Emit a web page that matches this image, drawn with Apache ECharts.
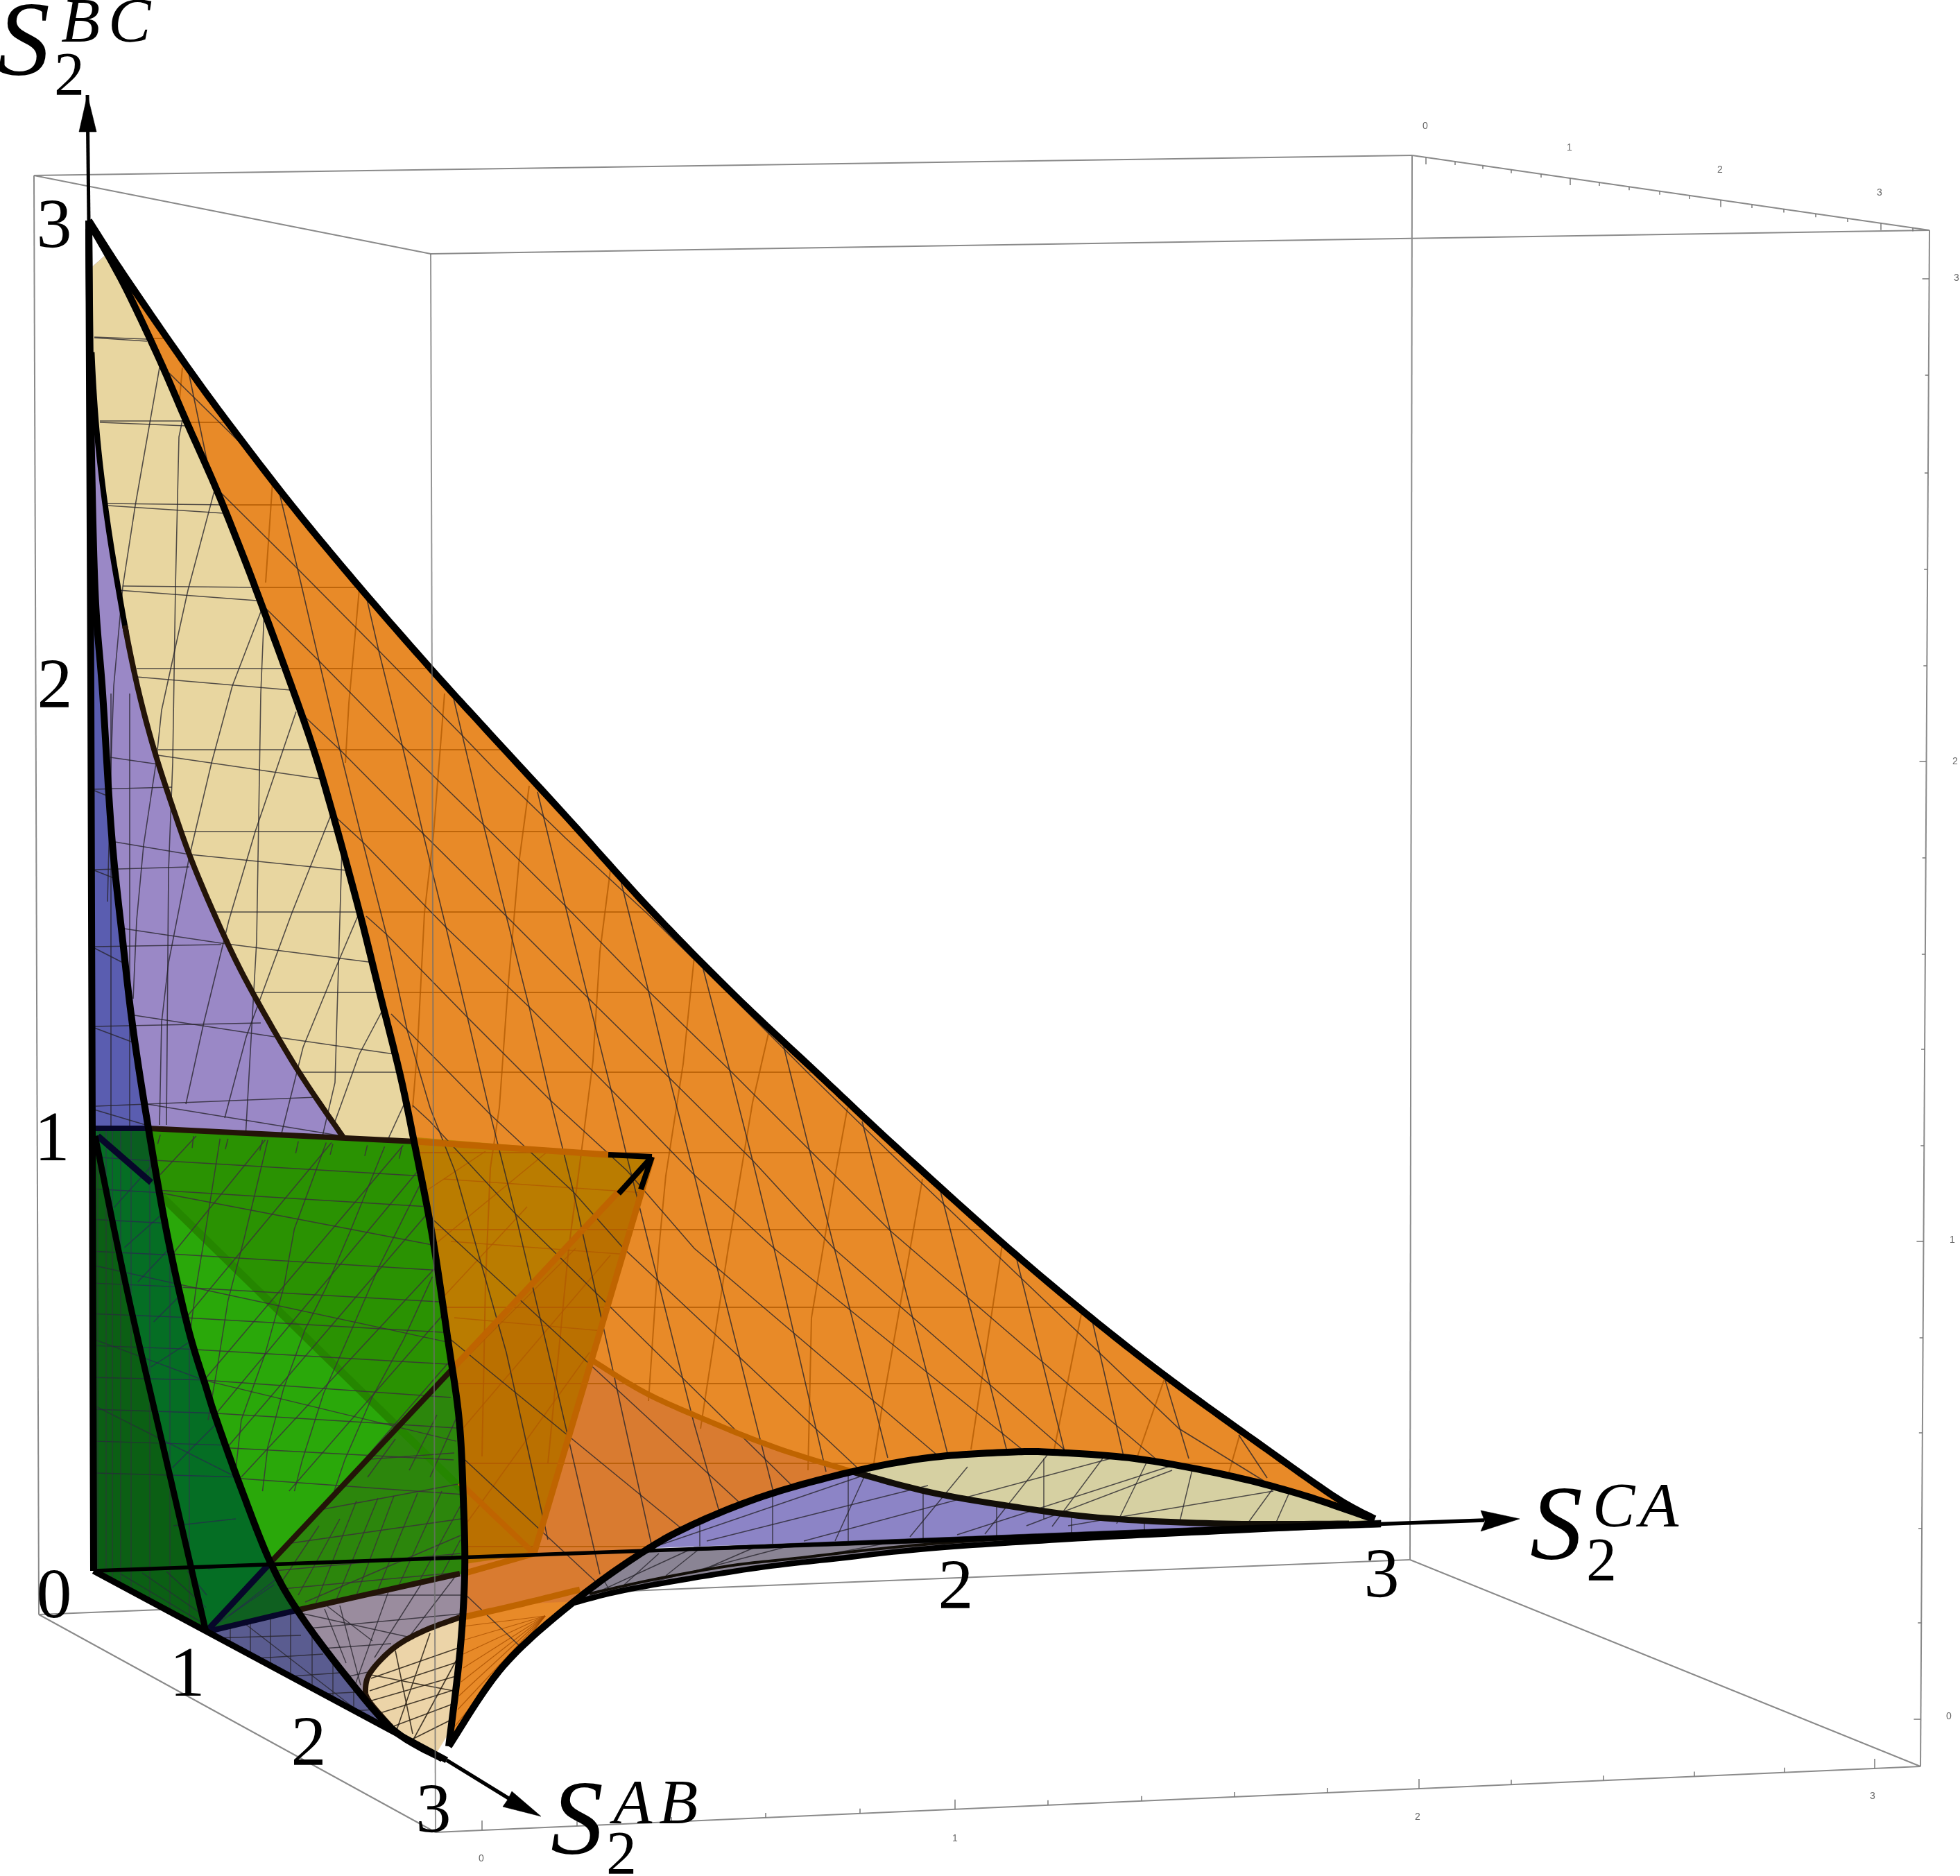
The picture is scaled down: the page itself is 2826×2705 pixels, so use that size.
<!DOCTYPE html>
<html><head><meta charset="utf-8">
<style>html,body{margin:0;padding:0;background:#fff}#c{width:2826px;height:2705px}</style>
<script src="https://cdn.jsdelivr.net/npm/echarts@6/dist/echarts.min.js"></script>
</head><body><div id="c"></div>
<script>
// ---- key vertices (plot units) ----
const origin=[135,2265], axisTopTip=[126,137], axisRightTip=[2191,2190], axisFrontTip=[780,2619];
const zTop=[128,318], z1=[136,1627], p1=[297,2353], x1=[390,2253], cubeTip=[940,1668], cubeFoot=[770,2240];
// ---- surface boundary curves ----
const outerEdge=[[128,318],[177,394],[263,519],[330,611],[421,729],[518,846],[620,963],[700,1051],[815,1176],[940,1314],[1060,1436],[1182,1551],[1292,1654],[1445,1792],[1573,1900],[1691,1992],[1827,2090],[1927,2160],[1982,2190]];
const innerEdge=[[128,320],[177,407],[228,514],[268,606],[311,703],[350,800],[375,866],[409,958],[447,1065],[474,1153],[516,1306],[548,1434],[577,1550],[597,1646],[623,1780],[646,1933],[662,2047],[668,2161],[670,2269],[663,2384],[647,2518]];
const yellowEdge=[[130,450],[135,560],[143,657],[156,759],[171,851],[187,938],[204,1014],[224,1087],[247,1158],[278,1245],[322,1347],[363,1429],[428,1541],[495,1640]];
const midEdge=[[128,330],[131,600],[137,850],[148,1000],[161,1204],[177,1357],[192,1485],[214,1627],[241,1780],[271,1914],[297,2000],[312,2047],[348,2147],[390,2253],[432,2327],[500,2418],[568,2495],[638,2536]];
const leftEdge=[[137,1638],[185,1869],[242,2115],[297,2353]];
const upperRim=[[647,2518],[725,2403],[828,2309],[930,2236],[1006,2195],[1108,2155],[1229,2122],[1338,2102],[1452,2094],[1518,2094],[1636,2103],[1764,2126],[1873,2154],[1982,2191]];
const lowerRim=[[828,2311],[910,2291],[1083,2262],[1210,2247],[1338,2233],[1529,2220],[1700,2211],[1991,2197]];
const peachEdge=[[663,2332],[610,2352],[568,2376],[535,2410],[527,2435],[533,2454],[564,2490]];
const peachEdgeHidden=[[663,2333],[755,2312],[836,2292]];
const orangeFold=[[853,1961],[930,2008],[1019,2048],[1120,2088],[1229,2122]];
const lensEdge=[[1229,2122],[1338,2151],[1465,2173],[1593,2189],[1764,2197],[1945,2197]];
const wedgeInner=[[850,2298],[940,2278],[1050,2258],[1146,2247],[1320,2228],[1500,2216]];

// ---- grid lines of the surfaces, crop-frame readings ----
const orangeSteep=[
[[271,532],[299,667]],
[[401,703],[429,820],[460,953],[490,1081],[523,1214],[557,1347],[587,1485],[620,1597],[656,1689],[730,1950],[790,2220]],
[[529,864],[546,938],[580,1075],[610,1202],[643,1337],[674,1467],[707,1607],[743,1750],[800,1990],[865,2270]],
[[654,1007],[697,1189],[730,1321],[763,1452],[794,1587],[827,1719],[845,1800],[900,2050],[940,2230]],
[[775,1142],[815,1306],[848,1439],[881,1571],[904,1668],[937,1800],[1000,2050],[1040,2190]],
[[895,1270],[935,1429],[965,1554],[1001,1694],[1027,1800],[1115,2151]],
[[1012,1390],[1052,1543],[1085,1673],[1116,1800],[1191,2122]],
[[1129,1505],[1167,1658],[1203,1800],[1280,2102]],
[[1243,1617],[1284,1776],[1366,2095]],
[[1355,1714],[1452,2093]],
[[1462,1800],[1535,2093]],
[[1574,1901],[1621,2104]],
[[1680,1990],[1714,2103]],
[[1786,2069],[1827,2131]]];
const orangeDiag=[
[[243,537],[355,647]],
[[319,711],[429,820],[546,938],[666,1060],[714,1110],[815,1208],[935,1319],[1052,1434],[1167,1549],[1284,1663],[1399,1773],[1700,2060],[1830,2140]],
[[383,877],[460,953],[580,1075],[697,1189],[815,1306],[935,1429],[1052,1543],[1167,1658],[1284,1775],[1580,2030],[1680,2115]],
[[439,1033],[490,1081],[610,1202],[730,1321],[848,1439],[965,1554],[1085,1673],[1202,1800],[1540,2095]],
[[485,1179],[523,1214],[643,1337],[763,1452],[881,1571],[1001,1694],[1116,1800],[1480,2095]],
[[528,1321],[557,1347],[674,1467],[794,1587],[904,1688],[1001,1800],[1350,2097]],
[[564,1462],[587,1485],[707,1607],[827,1719],[899,1800],[1240,2120]],
[[595,1594],[620,1617],[743,1750],[794,1800],[1150,2150]],
[[626,1760],[1070,2170]],
[[648,1930],[990,2210]],
[[665,2100],[880,2300]],
[[672,2300],[830,2450]]];
const orangeFaint=[
[[263,530],[258,586]],
[[393,695],[383,840]],
[[518,850],[503,1014],[498,1100]],
[[641,1000],[625,1204],[612,1316],[602,1510],[595,1597]],
[[763,1133],[748,1245],[732,1429],[720,1597],[707,1684],[700,1850],[695,2100]],
[[880,1255],[865,1372],[855,1530],[838,1663],[820,1800],[790,2110]],
[[1001,1380],[985,1534],[960,1695],[950,1800],[935,2020]],
[[1108,1490],[1085,1590],[1050,1800],[1010,2060]],
[[1222,1597],[1205,1690],[1170,1900],[1165,2120]],
[[1330,1700],[1270,2040],[1260,2110]],
[[1445,1795],[1400,2090]],
[[1560,1890],[1520,2090]],
[[1680,1985],[1640,2100]],
[[1790,2060],[1770,2130]]];
const orangeRows=[488,609,728,847,964,1081,1199,1315,1431,1546,1662,1773,1885,1995,2110,2230];
const paleRows=[[[136,486],[212,489]],[[144,607],[263,607]],[[155,726],[326,728]],[[177,845],[370,847]],[[197,964],[405,964]],[[228,1081],[452,1081]],[[264,1199],[488,1199]],[[310,1315],[520,1315]],[[365,1431],[552,1431]],[[432,1546],[586,1546]],
[[136,487],[212,492]],[[144,609],[268,614]],[[156,729],[322,740]],[[171,851],[370,866]],[[197,976],[419,995]],[[228,1089],[462,1123]],[[273,1232],[500,1255]],[[319,1360],[539,1388]],[[396,1495],[569,1520]],
[[159,1092],[228,1102]],[[166,1214],[273,1232]],[[179,1339],[319,1360]],[[194,1464],[396,1495]],[[212,1592],[493,1638]],
[[136,1138],[248,1135]],[[136,1254],[273,1250]],[[136,1365],[319,1362]],[[136,1480],[376,1475]],[[138,1595],[457,1582]],
[[136,1140],[156,1148]],[[136,1255],[164,1266]],[[136,1367],[177,1388]],[[136,1482],[192,1503]],[[136,1600],[210,1622]]];
const paleSteep=[[[263,606],[258,630],[253,846],[249,1100],[243,1255],[240,1622]],
[[381,880],[376,1000],[370,1357],[354,1640]],[[493,1225],[483,1561],[465,1638]],
[[230,530],[195,729],[177,846],[164,989],[160,1100],[155,1300]],
[[309,708],[271,851],[233,1024],[225,1100],[207,1219],[197,1327],[192,1440]],
[[378,877],[335,989],[305,1100],[273,1235],[243,1388],[233,1474],[230,1622]],
[[427,1026],[368,1199],[330,1327],[294,1474],[268,1592]],
[[478,1173],[421,1316],[355,1495],[324,1612]],
[[518,1316],[483,1398],[437,1510],[405,1638]],
[[554,1452],[518,1520],[483,1617]],
[[585,1587],[557,1648]],
[[160,1000],[160,1625]],[[187,1000],[187,1625]]];
const greenRowsCrop=[[[385,322],[1370,380]],[[400,435],[1385,495]],[[400,445],[1420,640]],[[445,675],[1425,735]],[[470,790],[1470,1005]],[[480,800],[1455,855]],[[500,915],[1470,970]],[[530,1035],[1490,1090]],[[560,1150],[1510,1380]],[[560,1150],[1490,1215]],[[610,1275],[1510,1330]],[[650,1405],[1500,1450]],[[690,1520],[1530,1580]]];
const greenUpCrop=[[[395,375],[530,230]],[[445,670],[790,245]],[[500,905],[1040,255]],[[560,1150],[1310,265]],[[610,1270],[1375,350]],[[650,1400],[1420,500]],[[700,1515],[1455,700]],[[880,1568],[1480,880]],[[1060,1568],[1510,1050]]];
const greenSteepCrop=[[[620,240],[560,620],[530,800],[510,950]],[[800,245],[710,620],[650,850],[610,1100],[575,1300]],[[1020,255],[900,580],[860,800],[790,1050],[700,1300],[680,1480]],[[1240,270],[1110,590],[1020,800],[940,960],[860,1180],[800,1400],[780,1568]],[[1380,400],[1220,720],[1120,950],[1010,1200],[930,1450],[900,1568]],[[1420,760],[1310,1000],[1190,1220],[1090,1450],[1050,1568]]];
const greenTicksCrop=[[[395,225],[385,260]],[[520,230],[515,275]],[[650,240],[640,280]],[[780,245],[770,285]],[[915,250],[905,295]],[[1045,260],[1035,300]],[[1175,265],[1165,305]],[[1305,270],[1295,315]]];
const darkRowsCrop=[[[155,310],[390,325]],[[155,430],[420,445]],[[155,545],[440,560]],[[155,665],[470,680]],[[155,785],[500,800]],[[155,900],[525,915]],[[155,1020],[560,1035]],[[155,1140],[590,1150]],[[155,1260],[620,1275]],[[155,1380],[650,1395]],[[155,1500],[690,1515]],[[155,720],[470,790]],[[155,1000],[560,1150]],[[155,1250],[690,1520]]];
const darkUpCrop=[[[220,500],[400,300]],[[260,650],[440,490]],[[310,780],[470,610]],[[370,930],[530,770]],[[360,1100],[560,970]],[[440,1480],[640,1280]]];
const darkColumns=[141,153,162,174,189,216,245,273];
const lowRows=[[[150,2272],[290,2348]],[[175,2270],[292,2340]],[[205,2268],[295,2330]],[[240,2266],[297,2318]],[[270,2265],[298,2300]],[[300,2262],[345,2255]],[[250,2200],[340,2190]],[[300,2350],[395,2285]],[[330,2330],[420,2260]]];
const oliveUp=[[[453,2318],[514,2164]],[[484,2309],[545,2160]],[[514,2300],[568,2157]],[[545,2292],[602,2153]],[[576,2284],[637,2150]],[[606,2277],[664,2171]],[[400,2290],[460,2200]],[[430,2300],[490,2190]],[[636,2272],[664,2220]],[[480,2150],[520,2100]],[[530,2130],[570,2075]],[[590,2120],[630,2040]],[[620,2130],[660,2040]]];
const oliveRows=[[[396,2292],[664,2267]],[[440,2310],[664,2214]],[[395,2265],[664,2240]],[[445,2180],[660,2140]],[[420,2225],[665,2190]],[[520,2105],[655,2095]]];
const lavenderLines=[[[438,2327],[664,2377]],[[472,2316],[537,2366]],[[445,2348],[664,2327]],[[465,2377],[564,2370]],[[468,2320],[499,2398]],[[490,2315],[520,2430]],[[560,2295],[510,2435]],[[610,2280],[540,2390]],[[655,2275],[590,2360]],[[520,2300],[664,2300]],[[490,2420],[535,2410]],[[510,2460],[530,2445]]];
const peachLines=[[[535,2420],[664,2375]],[[533,2438],[664,2395]],[[536,2452],[664,2415]],[[548,2470],[660,2435]],[[565,2490],[658,2455]],[[590,2510],[650,2480]],[[535,2415],[664,2440]],[[570,2380],[595,2500]],[[620,2355],[570,2500]],[[660,2390],[595,2510]]];
const slateColumns=[332,361,390,419,450,480,510];
const slateRows=[[[308,2362],[434,2358]],[[340,2393],[466,2385]],[[378,2420],[490,2412]],[[415,2445],[512,2440]],[[460,2470],[540,2465]],[[345,2335],[520,2470]]];
const fanHub=[786,2330];
const fanEnds=[[668,2345],[668,2365],[668,2385],[668,2405],[665,2425],[662,2445],[660,2465],[655,2490],[652,2505],[700,2440]];
const wedgeFan=[[[828,2311],[1000,2232]],[[828,2311],[1150,2226]],[[828,2311],[1300,2221]],[[828,2311],[1520,2212]],[[860,2260],[880,2295]],[[950,2240],[900,2285]],[[1010,2232],[960,2272]],[[1100,2226],[1010,2265]]];
const wedgeColumns=[1009,1114,1223,1331,1437,1545,1650];
const wedgeLines=[[[942,2231],[1255,2124]],[[1019,2222],[1338,2142]],[[1159,2222],[1620,2098]],[[1380,2213],[1700,2110]],[[1204,2222],[1248,2125]],[[1312,2216],[1395,2115]],[[1420,2212],[1510,2098]],[[1610,2197],[1655,2105]],[[1517,2201],[1595,2096]],[[1700,2198],[1720,2115]],[[1800,2195],[1840,2140]],[[1840,2195],[1860,2150]],[[1480,2200],[1690,2120]],[[1540,2200],[1836,2150]],[[1505,2103],[1505,2190]]];
const brownFaint=[[[630,1880],[760,1740]],[[640,1990],[830,1800]],[[650,2080],[880,1810]],[[670,2200],[850,1950]],[[610,1720],[700,1660]],[[620,1800],[790,1660]],[[640,1700],[930,1720]],[[650,1790],[920,1810]],[[655,1900],[880,1920]]];

// ---- box of the frame ----
const boxBack=[[[49,253],[2036,224]],[[49,253],[621,366]],[[621,366],[2782,332]],[[2036,224],[2782,332]],[[49,253],[56,2328]],[[2036,224],[2033,2249]],[[2782,332],[2769,2547]],[[56,2328],[2033,2249]],[[56,2328],[628,2642]],[[628,2642],[2769,2547]],[[2033,2249],[2769,2547]]];
const boxFront=[[621,366],[628,2642]];
const bottomTicksX=[695,832,968,1104,1240,1377,1511,1646,1780,1914,2046,2179,2312,2443,2573,2703];
const bottomMajor=[695,1377,2046,2703];
const topTicksX=[2056,2098,2138,2179,2222,2264,2306,2349,2393,2436,2481,2526,2572,2618,2664,2712,2758];
const topMajor=[2056,2264,2481,2712];
const rightTicksY=[402,541,682,821,960,1098,1237,1376,1513,1652,1790,1929,2066,2204,2340,2479];
const rightMajor=[402,1098,1790,2479];
const smallLabels=[["0",694,2680],["1",1377,2651],["2",2044,2620],["3",2700,2590],["0",2055,182],["1",2263,213],["2",2480,245],["3",2710,278],["3",2821,401],["2",2819,1098],["1",2815,1788],["0",2810,2475]];
const bigDigits=[["3",78,330],["2",79,993],["1",75,1646],["0",78,2305],["1",270,2418],["2",445,2518],["3",625,2615],["2",1378,2292],["3",1992,2276]];
const titleS=[[-4,112],[2206,2252],[794,2677]];
const titleSup=[["B",88,62],["C",156,62],["C",2296,2203],["A",2364,2203],["A",884,2631],["B",950,2631]];
const titleSub=[["2",78,138],["2",2287,2280],["2",874,2703]];

// ---- helpers for turning the readings into drawing paths ----
function dense(p){const o=[];for(let i=0;i<p.length-1;i++){const a=p[Math.max(i-1,0)],b=p[i],c=p[i+1],d=p[Math.min(i+2,p.length-1)];const n=14;for(let k=0;k<n;k++){const t=k/n,t2=t*t,t3=t2*t;o.push([0,1].map(j=>0.5*(2*b[j]+(c[j]-a[j])*t+(2*a[j]-5*b[j]+4*c[j]-d[j])*t2+(3*b[j]-a[j]-3*c[j]+d[j])*t3)));}}o.push(p[p.length-1]);return o;}
const byY=(c,a,b)=>c.filter(p=>p[1]>=a&&p[1]<=b);
const byX=(c,a,b)=>c.filter(p=>p[0]>=a&&p[0]<=b);
const rev=c=>c.slice().reverse();
const crop=(ls,ox,oy,k)=>ls.map(l=>l.map(p=>[ox+p[0]/k,oy+p[1]/k]));
const O=dense(outerEdge),I=dense(innerEdge),Y=dense(yellowEdge),M=dense(midEdge),L=dense(leftEdge),U=dense(upperRim),Lo=dense(lowerRim),P=dense(peachEdge),F=dense(orangeFold),E=dense(lensEdge);

const regOrange=[...O,...rev(U),...rev(I)];
const regFold=[...F,...rev(byX(U,828,1229)),[755,2312],[668,2334],[668,2255],cubeFoot];
const regBrown=[cubeTip,[597,1640],...byY(I,1646,2255),cubeFoot];
const regBrownLow=[cubeTip,cubeFoot,[668,2255],...rev(byY(I,1975,2255))];
const regYellow=[[133,385],[152,368],...byY(I,368,1646),[495,1640],...rev(byY(Y,606,1640)),[136,606]];
const regPurple=[...byY(Y,500,1640),[214,1627],...rev(byY(M,500,1627))];
const regBlue=[...byY(M,600,1627),[135,1625],[131,1000],[130,600]];
const regUpper=[[133,385],[152,368],...byY(I,368,1646),z1,[130,600]];
const regGreenTop=[[214,1627],[597,1646],...byY(I,1646,2147),[222,1708],...rev(byY(M,1627,1708))];
const regGreenBright=[...byY(M,1708,2253),[574,2057],[222,1708]];
const regOlive=[x1,[654,1972],...byY(I,1972,2269),[427,2322],...rev(byY(M,2253,2322))];
const regTeal=[z1,[214,1627],...byY(M,1627,2253),p1,...rev(L)];
const regTealTop=[z1,[214,1627],[222,1708]];
const regDark=[origin,z1,...L,p1];
const regTealLow=[p1,x1,...byY(M,2253,2322),[427,2322]];
const regSlate=[p1,[427,2322],...byY(M,2322,2538),[644,2538]];
const regLav=[[427,2322],[672,2269],[672,2332],...P,...rev(byY(M,2322,2490))];
const regPeach=[[672,2332],...P,...byY(M,2490,2530),[629,2528],[646,2500],...rev(byY(I,2332,2500))];
const regWedgePurple=[[935,2232],...byX(U,935,1229),...byX(E,1229,1764),[1764,2204]];
const regLens=[...byX(U,1229,1982),...rev(E)];
const regWedgeGray=[[928,2236],[1764,2204],[1764,2209],...rev(byX(Lo,828,1764))];
const regGreenAll=[z1,[597,1646],...byY(I,1646,2269),[427,2322],p1,origin];

// ---- drawing list ----
const ops=[];
const fill=(poly,color)=>ops.push({k:'fill',poly,color});
const line=(pts,color,w)=>ops.push({k:'line',pts,color,w});
const mesh=(lines,clip,color,w)=>ops.push({k:'mesh',lines,clip,color,w});
const text=(t,x,y,size,style,color,align,base)=>ops.push({k:'text',t,x,y,size,style,color,align,base});
const DARK='rgba(38,36,44,0.78)',FAINT='rgba(176,88,0,0.75)';
boxBack.forEach(l=>line(l,'#8a8a8a',2));
const bottomY=x=>2642+(x-628)*(2547-2642)/(2769-628),topY=x=>224+(x-2036)*(332-224)/(2782-2036),rightX=y=>2782+(y-332)*(2769-2782)/(2547-332);
bottomTicksX.forEach(x=>{const M0=bottomMajor.includes(x);line([[x,bottomY(x)],[x,bottomY(x)-(M0?14:7)]],'#777',1.5);});
topTicksX.forEach(x=>{const M0=topMajor.includes(x);line([[x,topY(x)],[x,topY(x)+(M0?10:5)]],'#777',1.5);});
rightTicksY.forEach(y=>{const M0=rightMajor.includes(y);line([[rightX(y),y],[rightX(y)-(M0?10:5),y]],'#777',1.5);});
smallLabels.forEach(a=>text(a[0],a[1],a[2],14,'normal','#666','center','middle'));

fill(regOrange,'#E88A28');
fill(regFold,'#D97B30');
fill(regBrown,'#BA7C00');
fill(regBrownLow,'#BA7000');
mesh(orangeFaint,regOrange,FAINT,2);
mesh(orangeRows.map(y=>[[100,y],[2100,y]]),regOrange,FAINT,2);
mesh(brownFaint,regBrown,FAINT,1.5);
fill(regWedgeGray,'#8A8494');
fill(regWedgePurple,'#8C84C6');
fill(regLens,'#D6D0A2');
mesh(wedgeColumns.map(x=>[[x,2080],[x,2240]]),regWedgePurple,DARK,1.5);
mesh(wedgeLines,regWedgePurple,DARK,1.5);
mesh(wedgeLines,regLens,DARK,1.5);
mesh(wedgeFan,regWedgeGray,DARK,1.5);
mesh(fanEnds.map(e=>[fanHub,e]),regOrange,'rgba(170,80,0,0.8)',1.2);
mesh(orangeSteep,regOrange,DARK,1.6);
mesh(orangeDiag,regOrange,DARK,1.6);

fill(regUpper,'#9A88C6');
fill(regBlue,'#5A5DB0');
fill(regPurple,'#9A88C6');
fill(regYellow,'#E8D6A0');
mesh(paleRows,regUpper,DARK,1.6);
mesh(paleSteep,regUpper,DARK,1.6);

fill(regGreenAll,'#2A9202');
fill(regGreenTop,'#2A9202');
fill(regGreenBright,'#2AA80A');
fill(regOlive,'#2C860C');
fill(regTeal,'#056E24');
fill(regTealTop,'#0A5E20');
fill(regDark,'#0B5F14');
fill(regTealLow,'#0F6020');
fill(regSlate,'#5A5C90');
fill(regLav,'#9A8C9E');
fill(regPeach,'#ECD4A8');
const GM='rgba(60,44,60,0.8)';
line([[230,1722],[665,2147]],'#258600',11);
mesh(crop(greenRowsCrop,80,1550,2.613),regGreenAll,GM,1.5);
mesh(crop(greenUpCrop,80,1550,2.613),regGreenAll,GM,1.5);
mesh(crop(greenSteepCrop,80,1550,2.613),regGreenAll,GM,1.5);
mesh(crop(greenTicksCrop,80,1550,2.613),regGreenAll,GM,1.5);
mesh(crop(darkRowsCrop,80,1550,2.613),regTeal,'rgba(40,40,80,0.75)',1.4);
mesh(crop(darkRowsCrop,80,1550,2.613),regDark,'rgba(40,40,60,0.7)',1.4);
mesh(crop(darkUpCrop,80,1550,2.613),regTeal,'rgba(40,40,80,0.75)',1.4);
mesh(darkColumns.map(x=>[[x,1627],[x,2380]]),regDark,'rgba(50,50,60,0.7)',1.4);
mesh(darkColumns.map(x=>[[x,1627],[x,2380]]),regTeal,'rgba(50,50,80,0.7)',1.4);
mesh(lowRows,regDark,'rgba(40,40,60,0.7)',1.4);
mesh(lowRows,regTeal,'rgba(40,40,80,0.7)',1.4);
mesh(lowRows,regTealLow,'rgba(40,40,80,0.7)',1.4);
mesh(oliveUp,regOlive,GM,1.4);
mesh(oliveRows,regOlive,GM,1.4);
mesh(lavenderLines,regLav,DARK,1.4);
mesh(peachLines,regPeach,'rgba(40,30,20,0.85)',1.6);
mesh(slateColumns.map(x=>[[x,2320],[x,2500]]),regSlate,DARK,1.4);
mesh(slateRows,regSlate,DARK,1.4);

// hidden edges
const BROWN='#231408',NAVY='#07072A',HID='#BF6400';
line([[663,2138],cubeFoot],HID,8);
line([cubeTip,cubeFoot],HID,9);
line([[654,1972],[892,1718]],HID,9);
line([[600,1646],[877,1665]],HID,9);
line([[668,2269],cubeFoot],HID,9);
line(dense(peachEdgeHidden),HID,9);
line(F,HID,8);
// black wire on top
line(Lo,'#000',8);
line(dense(wedgeInner),'#120e08',4);
line(byY(Y,500,915),'#000',8);
line(byY(Y,900,1640),BROWN,8);
line([z1,[214,1627]],NAVY,8);
line([[214,1627],[600,1646]],BROWN,8);
line([[141,1638],[218,1705]],NAVY,9);
line([p1,x1],NAVY,9);
line([x1,[654,1972]],BROWN,8);
line([p1,[427,2322]],NAVY,8);
line([[427,2322],[663,2269]],BROWN,8);
line(P,BROWN,8);
line(E,'#120e08',9);
line(L,'#000',9);
line(M,'#000',10);
line(O,'#000',10);
line(U,'#000',10);
line(I,'#000',10);
line([[877,1665],cubeTip],'#000',8);
line([cubeTip,[892,1721]],'#000',8);
line([cubeTip,[924,1715]],'#000',8);
line([axisTopTip,zTop],'#000',5);
line([zTop,[131,1000],origin],'#000',10);
line([origin,[2140,2192]],'#000',5.5);
fill([[1000,2231],[1991,2192],[1991,2202],[1000,2236]],'#000');
line([origin,[644,2538]],'#000',9);
line([[644,2538],[735,2594]],'#000',5.5);
fill([axisTopTip,[139,190],[114,190]],'#000');
fill([axisRightTip,[2135,2178],[2141,2194],[2135,2208]],'#000');
fill([axisFrontTip,[738,2583],[732,2595],[725,2605]],'#000');
line(boxFront,'rgba(110,110,110,0.72)',2);

bigDigits.forEach(a=>text(a[0],a[1],a[2],102,'normal','#000','center','middle'));
titleS.forEach(a=>text('S',a[0],a[1],152,'italic','#000','left','alphabetic'));
titleSup.forEach(a=>text(a[0],a[1],a[2],92,'italic','#000','left','alphabetic'));
titleSub.forEach(a=>text(a[0],a[1],a[2],88,'normal','#000','left','alphabetic'));

function render(params,api){
 const op=ops[params.dataIndex],z=params.dataIndex;
 const pts=a=>a.map(p=>api.coord(p));
 if(op.k==='fill')return {type:'polygon',z2:z,shape:{points:pts(op.poly)},style:{fill:op.color,stroke:op.color,lineWidth:0.6}};
 if(op.k==='line')return {type:'polyline',z2:z,shape:{points:pts(op.pts)},style:{fill:null,stroke:op.color,lineWidth:op.w,lineJoin:'round',lineCap:'butt'}};
 if(op.k==='mesh')return {type:'group',clipPath:{type:'polygon',shape:{points:pts(op.clip)}},children:op.lines.map(l=>({type:'polyline',z2:z,shape:{points:pts(l)},style:{fill:null,stroke:op.color,lineWidth:op.w}}))};
 const c=api.coord([op.x,op.y]);
 const mid=op.base==='middle';
 return {type:'text',z2:z,x:c[0],y:mid?c[1]:c[1]+op.size*0.21,style:{text:op.t,fill:op.color,font:op.style+' '+op.size+'px "'+(op.size<20?'Liberation Sans':'Liberation Serif')+'"',textAlign:op.align,textVerticalAlign:mid?'middle':'bottom',verticalAlign:mid?'middle':'bottom'}};
}
const chart=echarts.init(document.getElementById('c'),null,{renderer:'canvas'});
chart.setOption({animation:false,backgroundColor:'#fff',
 grid:{left:0,right:0,top:0,bottom:0},
 xAxis:{type:'value',min:0,max:2826,show:false},
 yAxis:{type:'value',min:0,max:2705,inverse:true,show:false},
 series:[{type:'custom',coordinateSystem:'cartesian2d',clip:false,progressive:0,silent:true,renderItem:render,data:ops.map((o,i)=>[i])}]});
</script></body></html>
